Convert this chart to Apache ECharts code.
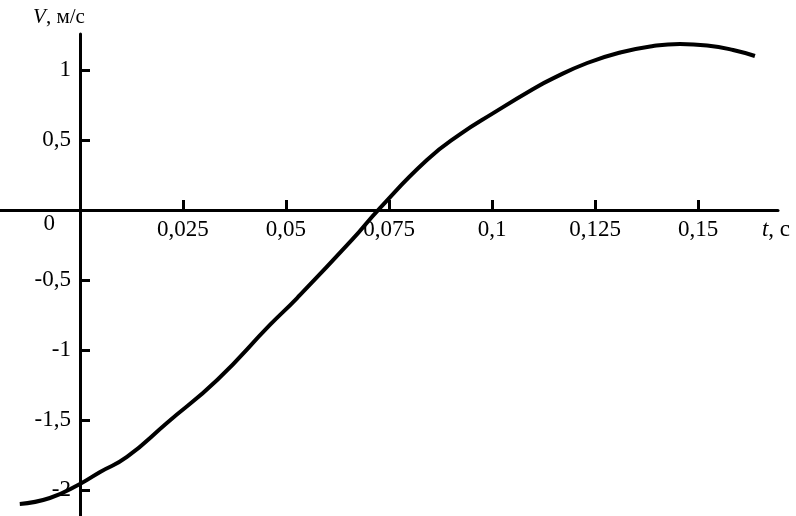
<!DOCTYPE html>
<html>
<head>
<meta charset="utf-8">
<script src="https://cdn.jsdelivr.net/npm/echarts@6/dist/echarts.min.js"></script>
<style>
  html, body { margin: 0; padding: 0; background: #fff; }
  #chart { width: 796px; height: 516px; }
</style>
</head>
<body>
<div id="chart"></div>
<script>
// t, с
const timeValues = [-0.0146, -0.0073, 0, 0.0049, 0.0114, 0.0211, 0.0333, 0.0461, 0.0527, 0.066,
  0.0728, 0.0842, 0.0922, 0.1002, 0.11, 0.1148, 0.1231, 0.1311, 0.1391, 0.1456, 0.1522, 0.1585, 0.1638]
// V, м/с
const speedValues = [-2.1, -2.057, -1.957, -1.871, -1.764, -1.521, -1.214, -0.821, -0.629, -0.214,
  0.014, 0.357, 0.54, 0.69, 0.864, 0.94, 1.05, 1.125, 1.171, 1.186, 1.175, 1.143, 1.1]

const xTicks = [0.025, 0.05, 0.075, 0.1, 0.125, 0.15]
const xTickLabels = ['0,025', '0,05', '0,075', '0,1', '0,125', '0,15']
const yTicks = [1, 0.5, -0.5, -1, -1.5, -2]
const yTickLabels = ['1', '0,5', '-0,5', '-1', '-1,5', '-2']

const font = 'Liberation Serif'
const chart = echarts.init(document.getElementById('chart'))

chart.setOption({
  animation: false,
  grid: { left: 0, right: 18, top: 34, bottom: 0, outerBoundsMode: 'none', containLabel: false },
  xAxis: {
    type: 'value',
    min: -0.0194,
    max: 0.1694,
    position: 'bottom',
    offset: -306,
    name: '{i|t}, с',
    nameLocation: 'end',
    nameGap: -2,
    nameTextStyle: {
      fontFamily: font, fontSize: 23, color: '#000',
      align: 'center', verticalAlign: 'top', padding: [8, 0, 0, 0],
      rich: { i: { fontFamily: font, fontSize: 23, fontStyle: 'italic', color: '#000' } },
    },
    axisLine: { onZero: false, lineStyle: { color: '#000', width: 3 } },
    axisTick: { inside: true, length: 10, customValues: xTicks, lineStyle: { color: '#000', width: 3 } },
    axisLabel: {
      customValues: xTicks,
      margin: 8,
      fontFamily: font, fontSize: 23, color: '#000',
      formatter: (v) => xTickLabels[xTicks.findIndex((t) => Math.abs(t - v) < 1e-9)] || '',
    },
    splitLine: { show: false },
  },
  yAxis: {
    type: 'value',
    min: -2.1857,
    max: 1.2571,
    position: 'left',
    offset: -80,
    name: '{i|V}, м/с',
    nameLocation: 'end',
    nameGap: 6,
    nameTextStyle: {
      fontFamily: font, fontSize: 21, color: '#000',
      align: 'center', padding: [0, 42, 0, 0],
      rich: { i: { fontFamily: font, fontSize: 21, fontStyle: 'italic', color: '#000' } },
    },
    axisLine: { onZero: false, lineStyle: { color: '#000', width: 3 } },
    axisTick: { inside: true, length: 10, customValues: yTicks, lineStyle: { color: '#000', width: 3 } },
    axisLabel: {
      customValues: [...yTicks, 0],
      margin: 9,
      fontFamily: font, fontSize: 23, color: '#000',
      formatter: (v) => {
        if (Math.abs(v) < 1e-9) return '{z|0}'
        return yTickLabels[yTicks.findIndex((t) => Math.abs(t - v) < 1e-9)] || ''
      },
      rich: { z: { fontFamily: font, fontSize: 23, color: '#000', padding: [28, 16, 0, 0] } },
    },
    splitLine: { show: false },
  },
  series: [{
    type: 'line',
    data: timeValues.map((t, i) => [t, speedValues[i]]),
    smooth: true,
    showSymbol: false,
    lineStyle: { color: '#000', width: 4 },
  }],
})
</script>
</body>
</html>
